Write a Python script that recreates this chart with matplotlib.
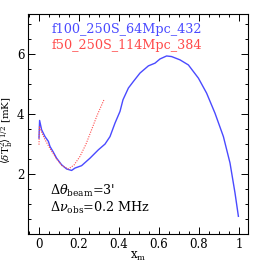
import matplotlib
matplotlib.use("Agg")
import matplotlib.pyplot as plt
from matplotlib.ticker import MultipleLocator

# blue: f100_250S_64Mpc_432
XB = [0.0, 0.003, 0.013, 0.03, 0.047, 0.055, 0.07, 0.088, 0.113, 0.138, 0.163,
      0.18, 0.213, 0.255, 0.297, 0.33, 0.355, 0.38, 0.405, 0.42, 0.447, 0.472,
      0.505, 0.547, 0.58, 0.605, 0.638, 0.663, 0.705, 0.747, 0.797, 0.838,
      0.88, 0.922, 0.955, 0.98, 0.997]
YB = [3.2, 3.79, 3.48, 3.25, 3.09, 2.92, 2.75, 2.53, 2.31, 2.17, 2.12,
      2.2, 2.28, 2.53, 2.81, 3.0, 3.25, 3.7, 4.09, 4.48, 4.87, 5.09,
      5.37, 5.61, 5.7, 5.84, 5.94, 5.92, 5.81, 5.64, 5.2, 4.7,
      4.03, 3.25, 2.37, 1.37, 0.59]
# red: f50_250S_114Mpc_384
XR = [0.0, 0.002, 0.013, 0.03, 0.055, 0.088, 0.115, 0.147, 0.175, 0.205,
      0.235, 0.263, 0.29, 0.325]
YR = [2.98, 3.6, 3.4, 3.15, 2.85, 2.5, 2.28, 2.17, 2.3, 2.59, 3.0, 3.48,
      3.95, 4.48]

BLUE = "#4a4aff"
RED = "#ff4a4a"

plt.rcParams["font.family"] = "DejaVu Serif"
plt.rcParams["mathtext.fontset"] = "dejavuserif"

fig = plt.figure(figsize=(2.62, 2.62), dpi=100)
ax = fig.add_axes([28 / 262, 1 - 234 / 262, 220 / 262, 220 / 262])
ax.plot(XB, YB, color=BLUE, lw=1.0)
ax.plot(XR, YR, color=RED, lw=0.8, ls=(0, (1, 1.2)))

ax.set_xlim(-0.055, 1.045)
ax.set_ylim(0, 7.34)
ax.xaxis.set_major_locator(MultipleLocator(0.2))
ax.xaxis.set_minor_locator(MultipleLocator(0.05))
ax.yaxis.set_major_locator(MultipleLocator(2))
ax.yaxis.set_minor_locator(MultipleLocator(0.5))
ax.set_xticks([0, 0.2, 0.4, 0.6, 0.8, 1.0])
ax.set_xticklabels(["0", "0.2", "0.4", "0.6", "0.8", "1"])
ax.set_yticks([2, 4, 6])
ax.tick_params(which="both", direction="in", top=True, right=True,
               labelsize=8.5, pad=3)
ax.tick_params(axis="y", pad=2.5)
ax.tick_params(which="major", length=5, width=0.7)
ax.tick_params(which="minor", length=2.5, width=0.7)
for s in ax.spines.values():
    s.set_linewidth(0.8)

ax.set_xlabel(r"x$_{\rm m}$", fontsize=8.5)
ax.xaxis.set_label_coords(0.5, -0.072)
ax.set_ylabel(r"$\langle\delta {\rm T_b^2}\rangle^{1/2}$ [mK]", fontsize=7.4)
ax.yaxis.set_label_coords(-0.057, 0.47)

ax.text(0.105, 0.93, "f100_250S_64Mpc_432", color=BLUE, fontsize=9.2,
        transform=ax.transAxes, va="center")
ax.text(0.105, 0.855, "f50_250S_114Mpc_384", color=RED, fontsize=9.2,
        transform=ax.transAxes, va="center")
ax.text(0.1, 0.195, r"$\Delta\theta_{\rm beam}$=3'", fontsize=9.2,
        transform=ax.transAxes, va="center")
ax.text(0.1, 0.118, r"$\Delta\nu_{\rm obs}$=0.2 MHz", fontsize=9.2,
        transform=ax.transAxes, va="center")

fig.savefig("out.png", dpi=100)
